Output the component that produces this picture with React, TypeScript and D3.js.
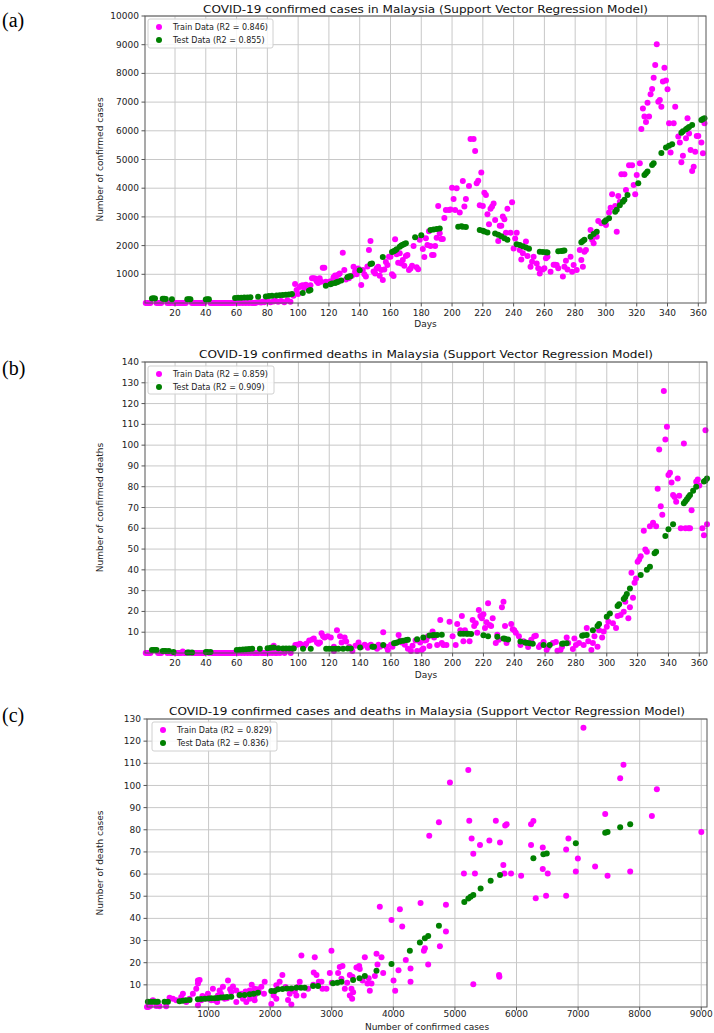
import React from "react";
import * as d3 from "d3";

// tick labels
const dayTicks = [20, 40, 60, 80, 100, 120, 140, 160, 180, 200, 220, 240, 260, 280, 300, 320, 340, 360];
const casesTicks = [1000, 2000, 3000, 4000, 5000, 6000, 7000, 8000, 9000, 10000];
const deathsTicks = [10, 20, 30, 40, 50, 60, 70, 80, 90, 100, 110, 120, 130, 140];
const scatterXTicks = [1000, 2000, 3000, 4000, 5000, 6000, 7000, 8000, 9000];
const scatterYTicks = [10, 20, 30, 40, 50, 60, 70, 80, 90, 100, 110, 120, 130];

// (a) day vs confirmed cases
const casesTrain: [number, number][] = [
  [1,0],[2,0],[3,0],[4,0],[8,0],[9,0],[10,0],[11,0],[15,0],[16,0],[17,0],[19,0],[20,0],[21,0],[22,0],[23,0],[24,0],[25,0],[26,0],[27,0],
  [31,0],[32,0],[33,0],[34,0],[35,0],[36,0],[37,0],[38,0],[39,0],[43,0],[44,0],[45,0],[46,0],[47,0],[48,0],[49,0],[50,0],[51,0],[52,0],
  [53,0],[54,0],[55,0],[56,0],[57,0],[58,0],[60,0],[62,0],[64,0],[66,0],[68,0],[70,0],[71,0],[72,0],[73,20],[75,30],[76,15],[77,40],
  [78,25],[80,60],[82,30],[84,50],[85,80],[87,40],[89,70],[91,30],[93,100],[95,40],[97,250],
  [98,660],[99,450],[100,310],[101,560],[102,600],[103,620],[104,520],[105,640],[106,580],[108,620],[109,860],[110,860],[111,850],
  [112,760],[113,700],[114,860],[115,740],[116,1230],[117,1230],[118,740],[119,700],[120,720],[121,760],[123,900],[124,960],[125,800],
  [126,980],[127,1030],[129,1750],[130,1150],[131,820],[133,860],[135,950],[136,1260],[137,1100],[138,1000],[139,1200],[141,630],
  [142,1150],[143,1000],[144,920],[145,1270],[146,1850],[147,2160],[149,1100],[150,1030],[151,1200],[152,1260],[153,950],[154,1150],
  [155,800],[156,1170],[157,1430],[158,1320],[159,1610],[160,1610],[161,1000],[162,940],[163,2220],[164,1700],[165,1400],[166,1730],
  [167,1380],[168,1500],[169,1300],[170,1640],[171,1670],[172,1150],[173,1200],[174,1300],[175,1990],[177,1250],[178,1175],[179,2200],
  [181,1880],[182,1600],[183,2260],[184,2020],[185,2500],[186,1990],[187,1670],[188,1670],[189,1990],[190,2270],[191,3380],[192,2430],
  [193,2230],[194,2230],[195,2960],[196,3240],[198,3240],[199,3260],[200,4020],[201,3620],[202,3240],[203,4000],[205,3150],[207,4250],
  [208,3360],[209,3620],[211,4080],[212,5710],[214,5710],[215,5300],[216,4170],[217,4260],[218,3410],[219,4550],[220,3380],[221,3840],
  [222,3760],[223,3090],[224,2740],[225,3280],[226,3360],[227,3470],[228,2890],[230,2160],[231,2690],[232,2690],[233,3010],[234,2920],
  [235,2450],[236,3280],[238,2450],[239,3510],[240,1900],[241,2250],[242,2450],[244,1850],[245,1520],[246,1730],[248,2140],[249,1640],
  [251,1260],[252,1440],[253,1610],[255,1380],[256,1210],[257,1030],[259,1170],[260,1210],[261,1560],[262,1610],[264,1090],[266,1330],
  [267,1330],[268,1320],[269,1210],[272,920],[273,1260],[274,1470],[275,1170],[277,1610],[278,1090],[279,1320],[281,1150],[283,1850],
  [284,1500],[285,1260],[286,1790],[287,1850],[290,2540],[291,2200],[292,2080],[294,2310],[295,2860],[297,2780],[300,2720],[302,3150],
  [303,3320],[304,3790],[306,3380],[307,2480],[308,3730],[309,3530],[310,4490],[312,4490],[313,3940],[315,4800],[317,4800],[318,4110],
  [319,3790],[320,4460],[322,4870],[323,6060],[324,6780],[325,6500],[326,6310],[327,6980],[328,6500],[329,7270],[330,7460],[331,7850],
  [332,8290],[333,9020],[334,7010],[335,7070],[336,6840],[337,7720],[338,8200],[339,7750],[340,7450],[341,6260],[342,5240],[344,6260],
  [345,6840],[347,5800],[348,5590],[349,4900],[350,5130],[352,5740],[353,6440],[354,5910],[355,5330],[356,4600],[357,4750],[358,5270],
  [359,5820],[360,5820],[362,5590],[363,5220],[364,6260],
];
const casesTest: [number, number][] = [
  [5,160],[6,165],[7,160],[12,150],[13,145],[14,140],[18,130],[28,130],[29,135],[30,130],[40,125],[41,130],[42,135],[59,170],[61,180],
  [63,185],[65,190],[67,195],[69,200],[74,220],[79,230],[81,240],[83,250],[86,260],[88,270],[90,280],[92,290],[94,300],[96,310],[103,350],
  [107,430],[108,450],[118,600],[121,650],[122,680],[124,700],[125,720],[126,740],[128,780],[132,900],[133,920],[134,930],[140,1140],
  [147,1360],[148,1380],[155,1600],[161,1780],[162,1800],[163,1830],[164,1870],[166,1960],[167,2000],[168,2030],[169,2060],[170,2080],
  [176,2290],[180,2360],[186,2540],[188,2560],[190,2580],[192,2600],[204,2660],[206,2670],[207,2660],[209,2650],[218,2540],[220,2520],
  [221,2490],[223,2460],[228,2420],[230,2380],[232,2330],[234,2260],[236,2200],[242,2050],[244,2020],[246,1980],[248,1930],[250,1890],
  [257,1790],[259,1780],[261,1770],[262,1760],[269,1800],[271,1810],[272,1820],[273,1830],[284,2120],[285,2160],[286,2200],[290,2310],
  [292,2400],[294,2480],[299,2830],[300,2880],[302,2950],[306,3180],[307,3250],[309,3410],[311,3530],[312,3600],[314,3760],[321,4170],
  [325,4460],[326,4520],[327,4580],[330,4810],[331,4870],[336,5230],[339,5420],[341,5480],[343,5530],[349,5930],[350,5980],[352,6050],
  [353,6090],[354,6130],[356,6200],[362,6380],[363,6410],[364,6440],
];

// (b) day vs confirmed deaths
const deathsTrain: [number, number][] = [
  [1,0],[2,0],[3,0],[4,0],[9,0],[10,0],[11,0],[15,0],[17,0],[18,0],[20,0],[21,0],[22,0],[23,0],[24,0],[25,0.7],[26,0],[27,0],
  [30,0],[32,0],[33,0],[34,0],[35,0],[36,0],[37,0],[38,0],[39,0],[42,0],[44,0],[45,0],[46,0],[47,0],[48,0],[49,0],[50,0],[51,0],[52,0],
  [53,0],[54,0],[55,0],[56,0],[57,0],[58,0],[59,0],[61,0],[63,0],[65,0],[67,0],[69,0],[71,0],[72,0],[73,0],[74,0],[76,0],[77,0],[78,0],
  [79,0],[81,0],[83,0],[84,3.5],[85,0],[86,0],[88,0],[89,1],[91,0],[93,1.5],[95,0],
  [98,3.8],[99,4],[101,4.5],[102,4],[104,3.5],[105,4.5],[107,6],[109,6.5],[110,7],[112,5],[113,4.5],[114,5],[115,9.5],[116,8],[117,7.5],
  [119,8],[121,7.5],[123,3],[123,1],[125,11],[127,8],[128,5],[130,7.5],[131,5.5],[133,3],[135,1],[137,3.5],[139,5],[141,3],[143,4],
  [145,2.5],[146,3.5],[147,4],[150,3],[151,2],[152,4],[153,3],[155,10],[157,3],[158,1.5],[160,4],[161,3],[165,8.6],[166,6],[167,5],
  [169,4],[171,2],[173,1],[174,3.5],[176,6],[177,1],[179,5],[180,1.4],[181,2.2],[182,6],[183,6.2],[184,8],[185,3.4],[187,10.3],
  [188,7.5],[190,3.8],[192,15.9],[193,4.8],[194,3.8],[196,3.8],[198,15],[200,8],[202,3.8],[203,13.9],[205,11],[206,17.8],[207,5.6],
  [208,11],[211,5.6],[213,15.9],[214,13],[215,14.3],[216,9.8],[217,20.7],[218,17.8],[219,16.7],[220,18.6],[221,12],[222,14.8],
  [223,23.9],[224,13.5],[225,13],[226,16.7],[228,4.8],[229,8.8],[230,6.4],[232,22],[233,24.7],[234,13],[235,4.8],[238,13.9],
  [239,11.4],[240,11],[241,9.8],[243,8],[244,3.8],[246,5.6],[248,4.8],[249,2.9],[251,6.4],[253,8],[254,8.3],[256,2.9],[257,3.8],
  [259,5.3],[261,1.4],[262,2.9],[265,4.8],[267,5.3],[268,1.1],[270,1.4],[271,3],[274,7.5],[275,4.8],[278,1.9],[279,7],[280,3.8],
  [282,4.8],[285,3.8],[287,12],[288,5.6],[290,1.4],[291,4.8],[292,8],[294,3],[295,11],[297,7.5],[298,10.3],[300,12.6],[301,15],
  [304,14.3],[306,12],[307,17.8],[309,18.3],[311,19.9],[312,24.7],[314,16.7],[315,22],[316,38.6],[317,26.6],[318,33.8],[319,35.9],
  [320,43.9],[321,45],[322,46.6],[324,58.8],[325,49.8],[326,48.7],[328,61],[330,62.7],[332,61],[333,79],[334,97.9],[335,70.6],
  [336,66.5],[337,126],[338,102.7],[339,108.8],[340,85.6],[341,86.7],[342,82],[343,76],[344,75],[345,72.8],[346,84],[347,75.6],
  [348,60],[350,100.8],[351,60],[353,60],[354,60],[355,68.7],[358,82.4],[359,83.5],[360,80.6],[362,60],[363,56.6],[364,107.2],[365,62],
];
const deathsTest: [number, number][] = [
  [5,1.4],[6,1.4],[7,1.4],[8,1.4],[12,1],[13,1],[14,1],[16,1],[19,0.5],[28,0.3],[29,0.3],[31,0.3],[40,0.5],[41,0.5],[43,0.5],[60,1.5],
  [62,1.6],[64,1.7],[66,1.8],[68,1.9],[70,2],[75,2],[80,2.3],[82,2.5],[84,2.7],[87,2.3],[90,2.2],[92,2.2],[94,2.2],[96,2.2],[97,2.2],
  [103,2],[108,2],[118,2],[120,2],[122,2],[124,2],[126,2],[129,2],[132,2.2],[134,2.2],[140,2.7],[148,3],[149,3],[155,3.8],[162,4.7],
  [163,4.8],[164,5],[166,5.6],[168,5.9],[170,6.2],[171,6.4],[177,6.6],[181,7.5],[185,8.4],[187,8.5],[188,8.6],[190,8.7],[193,8.8],
  [205,9.3],[207,9.3],[209,9.3],[210,9.3],[212,9.2],[220,8.5],[223,8],[229,7.8],[233,7],[234,6.8],[236,6.5],[244,5.5],[247,5],[248,4.9],
  [250,4.7],[252,4.5],[259,3.8],[263,3.8],[271,4.5],[272,4.6],[274,4.7],[284,8.3],[285,8.5],[287,8.7],[291,11],[294,13],[295,14],
  [300,17.5],[302,19],[307,22.6],[308,23.4],[311,26],[312,27],[313,28.4],[315,31],[322,37.5],[326,40],[328,41.5],[331,48],[332,48.7],
  [338,56.3],[340,59.5],[343,62],[350,72],[351,73],[352,74],[353,75],[354,76],[356,78],[358,80],[363,82.5],[364,83],[365,84],
];

// (c) confirmed cases vs deaths
const scatterTrain: [number, number][] = [
  [0,0],[20,0],[41,1.5],[50,0.5],[95,3],[150,0.4],[203,0.3],[312,0.3],[312,2.3],[366,4.2],[420,3.7],[475,3],[556,4.5],[583,6],
  [637,2.3],[691,3.7],[745,6],[800,8.2],[827,12],[827,10.6],[827,0.8],[854,12.2],[881,3],[900,5],[935,4.5],[962,3.7],[989,6],[1000,4],
  [1043,3],[1070,8.2],[1100,3],[1140,2.3],[1152,5.2],[1179,7.5],[1200,6],[1233,9.1],[1260,3.7],[1300,4],[1315,12],[1350,8],[1369,6.8],
  [1396,9.3],[1450,7.5],[1450,2.3],[1504,5.2],[1531,6],[1558,3.7],[1600,7],[1613,2.3],[1667,3.7],[1667,7.5],[1700,10],[1748,5.2],
  [1748,3],[1748,8.2],[1800,8],[1817,6.8],[1857,9.1],[1900,6],[1911,11.4],[2019,1.4],[2050,7],[2057,5.2],[2100,3.7],[2100,9.8],
  [2154,11.4],[2198,14.4],[2250,9],[2290,3.2],[2317,6],[2344,1.1],[2372,8.2],[2400,7],[2426,5.2],[2453,9.1],[2480,11.4],[2507,23.3],
  [2545,5.2],[2615,8.2],[2700,10],[2708,15.6],[2724,22.5],[2752,14.4],[2790,11.4],[2833,11.4],[2849,8.2],[2914,8.2],[2968,15.3],
  [2995,25.4],[3000,11],[3103,15.3],[3130,18],[3157,12.7],[3174,18.5],[3212,8.2],[3250,11],[3293,14.4],[3293,5.2],[3320,8.2],
  [3331,3.7],[3336,13.6],[3347,6.7],[3401,17.8],[3445,18.5],[3455,17.1],[3500,12],[3537,22.5],[3580,10.6],[3600,13],[3618,7.3],
  [3645,10.6],[3700,14],[3727,24],[3743,19.2],[3780,45.3],[3808,22.5],[3835,15.3],[3970,39.3],[4003,12],[4030,7.3],[4084,16.6],
  [4106,44.1],[4144,36.3],[4202,21.2],[4279,17.4],[4279,11.4],[4442,47],[4496,25.4],[4512,26.5],[4566,19.2],[4583,77.3],[4740,83.4],
  [4756,27.4],[4854,46.2],[4854,34.1],[4919,101.3],[5146,60.3],[5217,107],[5233,84.1],[5271,76.1],[5298,69.2],[5298,10.3],[5325,60.3],
  [5407,73.1],[5559,75.2],[5664,84.1],[5716,14.4],[5722,13.6],[5732,74.3],[5786,64.1],[5803,60.3],[5816,81.9],[5840,82.5],[5911,60.3],
  [6075,59.2],[6236,82.5],[6236,73.1],[6274,84],[6312,49.1],[6426,72],[6426,62.3],[6480,50.2],[6507,60.3],[6806,71.1],[6806,50.2],
  [6843,76.1],[6963,61.2],[6996,67],[7087,126.1],[7276,63.4],[7440,87.1],[7478,59.2],[7683,103.2],[7737,109.3],[7846,61.2],[8198,86.2],
  [8279,98.3],[9001,79],
];
const scatterTest: [number, number][] = [
  [14,2.4],[60,2.4],[100,2.4],[140,2.4],[176,2.4],[285,2.4],[340,2.4],[528,2.6],[580,2.8],[630,3],[690,3.2],[826,3.5],[880,3.6],
  [940,3.7],[1000,3.8],[1043,3.9],[1100,4],[1150,4.1],[1200,4.3],[1250,4.4],[1300,4.5],[1368,4.6],[1504,5.4],[1585,5.4],[1667,5.8],
  [1730,6],[1802,6.4],[2019,7.2],[2073,7.2],[2127,8],[2200,8.1],[2270,8.3],[2344,8.4],[2425,8.7],[2500,8.7],[2560,8.7],[2696,9.5],
  [2777,9.5],[3021,10.7],[3090,11],[3157,11.4],[3347,12.2],[3450,13],[3537,14],[3726,16.4],[3970,19.4],[4268,25.4],[4431,29.1],
  [4512,31],[4566,32],[4740,36.7],[5152,47.4],[5218,49],[5255,49.8],[5298,50.6],[5417,53.5],[5580,57],[5732,59.6],[6274,67.1],
  [6436,68.9],[6491,69.3],[6963,73.9],[7440,78.7],[7478,79],[7683,81.1],[7846,82.5],
];

const TRAIN = "#ff00ff";
const TEST = "#008000";
const FONT = "DejaVu Sans, sans-serif";

type Box = { left: number; right: number; top: number; bottom: number };

type PanelProps = {
  tag: string;
  tagY: number;
  box: Box;
  xDomain: [number, number];
  yDomain: [number, number];
  xTicks: number[];
  yTicks: number[];
  train: [number, number][];
  test: [number, number][];
  title: string;
  titleY: number;
  titleLen: number;
  xLabel: string;
  yLabel: string;
  tickY: number;
  xLabelY: number;
  r2: [string, string];
  legend: { x: number; y: number; w: number; h: number };
};

function Panel(p: PanelProps) {
  const x = d3.scaleLinear().domain(p.xDomain).range([p.box.left, p.box.right]);
  const y = d3.scaleLinear().domain(p.yDomain).range([p.box.bottom, p.box.top]);
  const { left, right, top, bottom } = p.box;
  const cx = (left + right) / 2;
  const cy = (top + bottom) / 2;
  return (
    <g>
      <text x={2} y={p.tagY} fontFamily="Liberation Serif, Times New Roman, serif" fontSize={20} fill="#000">
        {p.tag}
      </text>
      {/* grid */}
      {p.xTicks.map((t) => (
        <line key={"gx" + t} x1={x(t)} x2={x(t)} y1={top} y2={bottom} stroke="#c8c8c8" strokeWidth={1} />
      ))}
      {p.yTicks.map((t) => (
        <line key={"gy" + t} x1={left} x2={right} y1={y(t)} y2={y(t)} stroke="#c8c8c8" strokeWidth={1} />
      ))}
      {/* points */}
      {p.train.map((d, i) => (
        <circle key={"tr" + i} cx={x(d[0])} cy={y(d[1])} r={3} fill={TRAIN} />
      ))}
      {p.test.map((d, i) => (
        <circle key={"te" + i} cx={x(d[0])} cy={y(d[1])} r={3} fill={TEST} />
      ))}
      {/* frame */}
      <rect x={left} y={top} width={right - left} height={bottom - top} fill="none" stroke="#555" strokeWidth={1} />
      {/* ticks */}
      {p.xTicks.map((t) => (
        <g key={"tx" + t}>
          <line x1={x(t)} x2={x(t)} y1={bottom} y2={bottom + 3.5} stroke="#555" />
          <text x={x(t)} y={p.tickY} textAnchor="middle" fontFamily={FONT} fontSize={9} fill="#222">
            {t}
          </text>
        </g>
      ))}
      {p.yTicks.map((t) => (
        <g key={"ty" + t}>
          <line x1={left - 3.5} x2={left} y1={y(t)} y2={y(t)} stroke="#555" />
          <text x={left - 6} y={y(t)} dy="0.34em" textAnchor="end" fontFamily={FONT} fontSize={9} fill="#222">
            {t}
          </text>
        </g>
      ))}
      {/* labels */}
      <text x={cx} y={p.titleY} textAnchor="middle" fontFamily={FONT} fontSize={10.5} fill="#111"
        textLength={p.titleLen} lengthAdjust="spacingAndGlyphs">
        {p.title}
      </text>
      <text x={cx} y={p.xLabelY} textAnchor="middle" fontFamily={FONT} fontSize={9} fill="#222">
        {p.xLabel}
      </text>
      <text transform={`translate(103,${cy}) rotate(-90)`} textAnchor="middle" fontFamily={FONT} fontSize={9} fill="#222">
        {p.yLabel}
      </text>
      {/* legend */}
      <g transform={`translate(${p.legend.x},${p.legend.y})`}>
        <rect width={p.legend.w} height={p.legend.h} rx={2} fill="#fff" fillOpacity={0.85} stroke="#d0d0d0" />
        <circle cx={11} cy={8} r={3} fill={TRAIN} />
        <circle cx={11} cy={21} r={3} fill={TEST} />
        <text x={25} y={11} fontFamily={FONT} fontSize={8} fill="#222">{`Train Data (R2 = ${p.r2[0]})`}</text>
        <text x={25} y={24} fontFamily={FONT} fontSize={8} fill="#222">{`Test Data (R2 = ${p.r2[1]})`}</text>
      </g>
    </g>
  );
}

export default function App() {
  return (
    <svg width={714} height={1033} style={{ position: "absolute", left: 0, top: 0, background: "#fff" }}>
      <rect width={714} height={1033} fill="#fff" />
      <Panel
        tag="(a)"
        tagY={27}
        box={{ left: 145, right: 706, top: 16, bottom: 303 }}
        xDomain={[0.5, 365]}
        yDomain={[0, 10000]}
        xTicks={dayTicks}
        yTicks={casesTicks}
        train={casesTrain}
        test={casesTest}
        title="COVID-19 confirmed cases in Malaysia (Support Vector Regression Model)"
        titleY={13}
        titleLen={445}
        xLabel="Days"
        yLabel="Number of confirmed cases"
        tickY={316}
        xLabelY={327}
        r2={["0.846", "0.855"]}
        legend={{ x: 148, y: 19, w: 125, h: 29 }}
      />
      <Panel
        tag="(b)"
        tagY={375}
        box={{ left: 145, right: 707, top: 362, bottom: 653 }}
        xDomain={[0.5, 365]}
        yDomain={[0, 140]}
        xTicks={dayTicks}
        yTicks={deathsTicks}
        train={deathsTrain}
        test={deathsTest}
        title="COVID-19 confirmed deaths in Malaysia (Support Vector Regression Model)"
        titleY={358}
        titleLen={454}
        xLabel="Days"
        yLabel="Number of confirmed deaths"
        tickY={666}
        xLabelY={678}
        r2={["0.859", "0.909"]}
        legend={{ x: 148, y: 366, w: 126, h: 28 }}
      />
      <Panel
        tag="(c)"
        tagY={722}
        box={{ left: 147, right: 707, top: 719, bottom: 1007 }}
        xDomain={[0, 9093]}
        yDomain={[0, 130]}
        xTicks={scatterXTicks}
        yTicks={scatterYTicks}
        train={scatterTrain}
        test={scatterTest}
        title="COVID-19 confirmed cases and deaths in Malaysia (Support Vector Regression Model)"
        titleY={715}
        titleLen={516}
        xLabel="Number of confirmed cases"
        yLabel="Number of death cases"
        tickY={1017}
        xLabelY={1030}
        r2={["0.829", "0.836"]}
        legend={{ x: 152, y: 722, w: 125, h: 29 }}
      />
    </svg>
  );
}
